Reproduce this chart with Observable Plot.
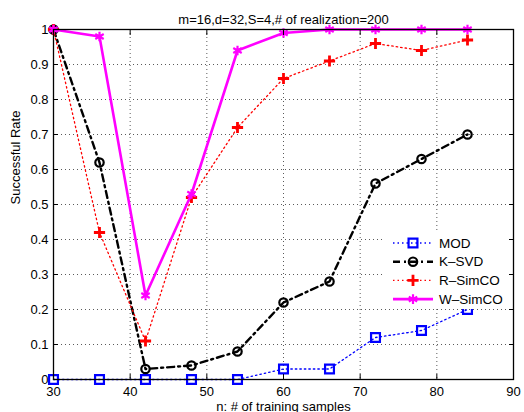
<!DOCTYPE html>
<html>
<head>
<meta charset="utf-8">
<script src="https://cdn.jsdelivr.net/npm/d3@7"></script>
<script src="https://cdn.jsdelivr.net/npm/@observablehq/plot@0.6"></script>
<style>
  html, body { margin: 0; padding: 0; background: #fff; }
  #wrap { position: relative; width: 524px; height: 412px; font-family: "Liberation Sans", Arial, Helvetica, sans-serif; }
  #legend { position: absolute; left: 385px; top: 233px; background: #fff; }
</style>
</head>
<body>
<div id="wrap"></div>
<script>
const xValues = [30, 36, 42, 48, 54, 60, 66, 72, 78, 84];
const modValues = [0, 0, 0, 0, 0, 0.03, 0.03, 0.12, 0.14, 0.20];
const ksvdValues = [1, 0.62, 0.03, 0.04, 0.08, 0.22, 0.28, 0.56, 0.63, 0.70];
const rsimcoValues = [1, 0.42, 0.11, 0.52, 0.72, 0.86, 0.91, 0.96, 0.94, 0.97];
const wsimcoValues = [1, 0.98, 0.24, 0.53, 0.94, 0.99, 1, 1, 1, 1];
const seriesNames = ["MOD", "K\u2013SVD", "R\u2013SimCO", "W\u2013SimCO"];
const xTicks = [30, 40, 50, 60, 70, 80, 90];
const yTicks = [0, 0.1, 0.2, 0.3, 0.4, 0.5, 0.6, 0.7, 0.8, 0.9, 1];
const yTickLabels = ["0", "0.1", "0.2", "0.3", "0.4", "0.5", "0.6", "0.7", "0.8", "0.9", "1"];
const titleText = "m=16,d=32,S=4,# of realization=200";
const xLabel = "n: # of training samples";
const yLabel = "Successful Rate";

const styles = [
  {stroke: "#0000ff", width: 1.3, dash: "1.5,3", symbol: "square", r: 5, mw: 2.2},
  {stroke: "#000000", width: 2.4, dash: "7,4,2,4", symbol: "circle", r: 4.2, mw: 2.2},
  {stroke: "#ff0000", width: 1.3, dash: "1.5,3", symbol: "plus", r: 3.7, mw: 2.8},
  {stroke: "#ff00ff", width: 2.6, dash: null, symbol: "asterisk", r: 4.6, mw: 2.2}
];
const allValues = [modValues, ksvdValues, rsimcoValues, wsimcoValues];
const series = allValues.map((vals, i) => xValues.map((x, j) => ({x, y: vals[j], name: seriesNames[i]})));

const font = "Liberation Sans, Arial, Helvetica, sans-serif";
const marks = [
  Plot.gridX(xTicks, {stroke: "#333", strokeOpacity: 0.9, strokeDasharray: "1,3", strokeWidth: 0.9}),
  Plot.gridY(yTicks, {stroke: "#333", strokeOpacity: 0.9, strokeDasharray: "1,3", strokeWidth: 0.9}),
];
series.forEach((d, i) => {
  const s = styles[i];
  marks.push(Plot.line(d, {x: "x", y: "y", stroke: s.stroke, strokeWidth: s.width, strokeDasharray: s.dash}));
  marks.push(Plot.dot(d, {x: "x", y: "y", symbol: () => s.symbol, r: s.r, stroke: s.stroke, strokeWidth: s.mw, fill: "none"}));
});
marks.push(
  Plot.frame({stroke: "#000", strokeWidth: 1.3}),
  Plot.axisX(xTicks, {anchor: "bottom", tickSize: 0, tickPadding: 7, fontSize: 13, label: null, fill: "#000", tickFormat: d => String(d)}),
  Plot.axisX(xTicks, {anchor: "bottom", tickSize: -5, fill: "none", label: null, stroke: "#000"}),
  Plot.axisX(xTicks, {anchor: "top", tickSize: -5, fill: "none", label: null, stroke: "#000"}),
  Plot.axisY(yTicks, {anchor: "left", tickSize: 0, tickPadding: 5, fontSize: 13, label: null, fill: "#000", tickFormat: d => yTickLabels[yTicks.indexOf(d)]}),
  Plot.axisY(yTicks, {anchor: "left", tickSize: -5, fill: "none", label: null, stroke: "#000"}),
  Plot.axisY(yTicks, {anchor: "right", tickSize: -5, fill: "none", label: null, stroke: "#000"}),
  Plot.text([titleText], {frameAnchor: "top", dy: -15, fontSize: 13, fill: "#000"}),
  Plot.text([xLabel], {frameAnchor: "bottom", dy: 31, fontSize: 13, fill: "#000"}),
  Plot.text([yLabel], {frameAnchor: "left", dx: -38, rotate: -90, fontSize: 13, fill: "#000"})
);

const chart = Plot.plot({
  width: 524,
  height: 412,
  marginLeft: 53,
  marginRight: 11,
  marginTop: 29,
  marginBottom: 33,
  x: {domain: [30, 90]},
  y: {domain: [0, 1]},
  style: {fontFamily: font, background: "#fff", color: "#000", overflow: "visible"},
  marks
});
document.getElementById("wrap").appendChild(chart);

// legend
const lw = 122, lh = 76, rowH = 18.7;
const leg = d3.create("svg").attr("id", "legend").attr("width", lw).attr("height", lh)
  .style("font-family", font);
leg.append("rect").attr("width", lw).attr("height", lh).attr("fill", "#fff");
const symMap = {square: d3.symbolSquare, circle: d3.symbolCircle, plus: d3.symbolPlus, asterisk: d3.symbolAsterisk};
seriesNames.forEach((name, i) => {
  const s = styles[i];
  const y = 10 + i * rowH;
  const g = leg.append("g").attr("transform", `translate(0,${y})`);
  g.append("line").attr("x1", 8).attr("x2", 48).attr("y1", 0).attr("y2", 0)
    .attr("stroke", s.stroke).attr("stroke-width", s.width).attr("stroke-dasharray", s.dash);
  g.append("path").attr("transform", "translate(28,0)")
    .attr("d", d3.symbol(symMap[s.symbol], Math.PI * s.r * s.r)())
    .attr("fill", "none").attr("stroke", s.stroke).attr("stroke-width", s.mw);
  g.append("text").attr("x", 54).attr("y", 0).attr("dy", "0.35em")
    .attr("font-size", 13.5).attr("fill", "#000").text(name);
});
document.getElementById("wrap").appendChild(leg.node());
</script>
</body>
</html>
